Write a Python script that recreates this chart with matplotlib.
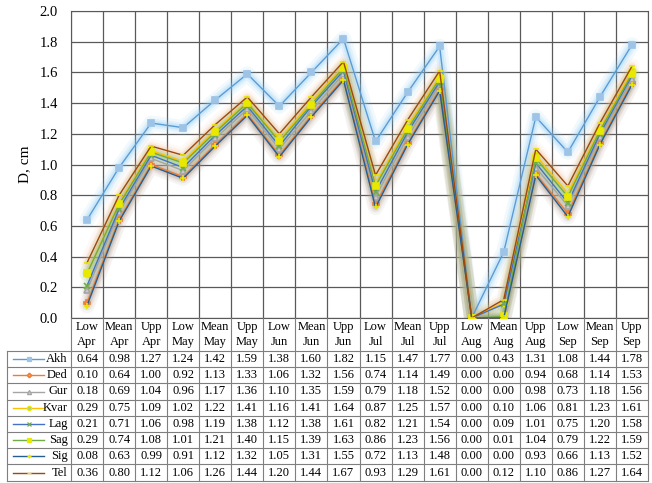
import numpy as np
import matplotlib
matplotlib.use('Agg')
import matplotlib.pyplot as plt

plt.rcParams['font.family'] = ['Liberation Serif', 'DejaVu Serif']

# category labels (two lines each)
levels = ['Low', 'Mean', 'Upp'] * 6
months = ['Apr'] * 3 + ['May'] * 3 + ['Jun'] * 3 + ['Jul'] * 3 + ['Aug'] * 3 + ['Sep'] * 3

names = ['Akh', 'Ded', 'Gur', 'Kvar', 'Lag', 'Sag', 'Sig', 'Tel']
akh = [0.64, 0.98, 1.27, 1.24, 1.42, 1.59, 1.38, 1.60, 1.82, 1.15, 1.47, 1.77, 0.00, 0.43, 1.31, 1.08, 1.44, 1.78]
ded = [0.10, 0.64, 1.00, 0.92, 1.13, 1.33, 1.06, 1.32, 1.56, 0.74, 1.14, 1.49, 0.00, 0.00, 0.94, 0.68, 1.14, 1.53]
gur = [0.18, 0.69, 1.04, 0.96, 1.17, 1.36, 1.10, 1.35, 1.59, 0.79, 1.18, 1.52, 0.00, 0.00, 0.98, 0.73, 1.18, 1.56]
kvar = [0.29, 0.75, 1.09, 1.02, 1.22, 1.41, 1.16, 1.41, 1.64, 0.87, 1.25, 1.57, 0.00, 0.10, 1.06, 0.81, 1.23, 1.61]
lag = [0.21, 0.71, 1.06, 0.98, 1.19, 1.38, 1.12, 1.38, 1.61, 0.82, 1.21, 1.54, 0.00, 0.09, 1.01, 0.75, 1.20, 1.58]
sag = [0.29, 0.74, 1.08, 1.01, 1.21, 1.40, 1.15, 1.39, 1.63, 0.86, 1.23, 1.56, 0.00, 0.01, 1.04, 0.79, 1.22, 1.59]
sig = [0.08, 0.63, 0.99, 0.91, 1.12, 1.32, 1.05, 1.31, 1.55, 0.72, 1.13, 1.48, 0.00, 0.00, 0.93, 0.66, 1.13, 1.52]
tel = [0.36, 0.80, 1.12, 1.06, 1.26, 1.44, 1.20, 1.44, 1.67, 0.93, 1.29, 1.61, 0.00, 0.12, 1.10, 0.86, 1.27, 1.64]
series = [akh, ded, gur, kvar, lag, sag, sig, tel]

# line colour, marker, marker face, marker edge, glow colour, glow strength
styles = [
    ('#5B9BD5', 's', '#9DC3E6', '#9DC3E6', '#8CCBF5', 1.6),
    ('#ED7D31', 'P', '#F4B183', '#ED7D31', '#F4B183', 1.0),
    ('#A5A5A5', '^', '#C9C9C9', '#A5A5A5', '#C9C9C9', 1.0),
    ('#FFC000', 'o', '#A9D18E', '#E8E800', '#C5E0B4', 1.0),
    ('#4472C4', 'x', '#70AD47', '#70AD47', '#A9D18E', 1.0),
    ('#70AD47', 's', '#E8E800', '#E8E800', '#70AD47', 1.0),
    ('#255E91', '+', '#E8E800', '#E8E800', '#7F7F7F', 1.0),
    ('#9E480E', '_', '#E8E800', '#E8E800', '#F4B183', 1.0),
]

W, H = 652, 483
fig = plt.figure(figsize=(W / 100, H / 100), dpi=100)

x0, x1 = 71, 648
ytop, ybot = 11, 318
ax = fig.add_axes([x0 / W, 1 - ybot / H, (x1 - x0) / W, (ybot - ytop) / H])
n = len(levels)
xs = np.arange(n)

# glow under the lines
for s, st in zip(series, styles):
    for lw, a in [(11, 0.07), (7, 0.10), (4, 0.16)]:
        ax.plot(xs, s, color=st[4], lw=lw, alpha=min(a * st[5], 1), solid_capstyle='round', zorder=2)
for s, st in zip(series, styles):
    ax.plot(xs, s, color=st[0], lw=1.0, marker=st[1], ms=4.5, mfc=st[2], mec=st[3],
            mew=1.2, zorder=3)

ax.set_xlim(-0.5, n - 0.5)
ax.set_ylim(0, 2.0)
ax.set_yticks(np.arange(0, 2.01, 0.2))
ax.set_yticklabels(['%.1f' % v for v in np.arange(0, 2.01, 0.2)], fontsize=10.5)
ax.set_xticks(np.arange(-0.5, n, 1.0))
ax.set_xticklabels([])
ax.tick_params(length=0, pad=9.5)
ax.grid(True, color='#595959', lw=0.9)
ax.set_axisbelow(True)
for sp in ax.spines.values():
    sp.set_color('#595959')
ax.set_ylabel('D, cm', fontsize=11, labelpad=6)

# data table below the plot, same column scale
cw = (x1 - x0) / n
lx0 = 7
lab_w = (x0 - lx0) / cw
tab = fig.add_axes([lx0 / W, 0, (x1 - lx0) / W, (H - ybot) / H])
tab.set_xlim(-0.5 - lab_w, n - 0.5)
tab.set_ylim(H - ybot, 0)
tab.axis('off')

head_h = 33
row_h = 16.2
bottom = head_h + row_h * len(names)
gc = '#7F7F7F'
for i in range(n + 1):
    tab.plot([i - 0.5, i - 0.5], [0, bottom], color=gc, lw=0.8, clip_on=False)
tab.plot([-0.5 - lab_w, -0.5 - lab_w], [head_h, bottom], color=gc, lw=0.8, clip_on=False)
for r in range(len(names) + 1):
    tab.plot([-0.5 - lab_w, n - 0.5], [head_h + r * row_h] * 2, color=gc, lw=0.8, clip_on=False)

for i in range(n):
    tab.text(i, 9, levels[i], ha='center', va='center', fontsize=9)
    tab.text(i, 24, months[i], ha='center', va='center', fontsize=9)

for r, (nm, s, st) in enumerate(zip(names, series, styles)):
    yc = head_h + (r + 0.5) * row_h
    lx = -0.5 - lab_w
    tab.plot([lx + 0.2, lx + 1.15], [yc, yc], color=st[0], lw=1.0, clip_on=False)
    tab.plot([lx + 0.68], [yc], marker=st[1], ms=3, mfc=st[2], mec=st[3], mew=0.9,
             color=st[0], clip_on=False)
    tab.text(-0.6, yc, nm, ha='right', va='center', fontsize=9)
    for i, v in enumerate(s):
        tab.text(i, yc, '%.2f' % v, ha='center', va='center', fontsize=9)

fig.savefig('out.png', dpi=100, facecolor='white')
